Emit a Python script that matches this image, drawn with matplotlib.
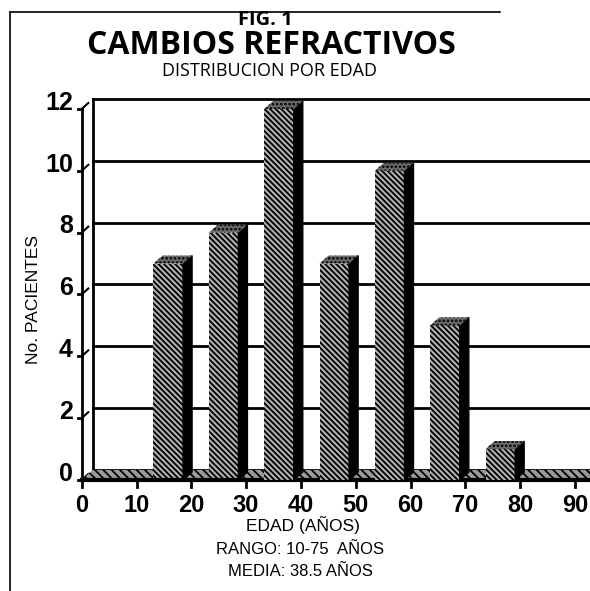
import matplotlib
matplotlib.use("Agg")
import matplotlib.pyplot as plt
from matplotlib.patches import Polygon
from matplotlib.lines import Line2D

# ---- data ----
bin_starts = [0, 10, 20, 30, 40, 50, 60, 70, 80]
patients = [0, 7, 8, 12, 7, 10, 5, 1, 0]
x_ticks = [0, 10, 20, 30, 40, 50, 60, 70, 80, 90]
y_ticks = [0, 2, 4, 6, 8, 10, 12]
title_fig = "FIG. 1"
title_main = "CAMBIOS REFRACTIVOS"
subtitle = "DISTRIBUCION POR EDAD"
xlabel = "EDAD (AÑOS)"
ylabel = "No. PACIENTES"
note1 = "RANGO: 10-75  AÑOS"
note2 = "MEDIA: 38.5 AÑOS"

plt.rcParams['hatch.linewidth'] = 1.3
W, H = 590, 591
fig = plt.figure(figsize=(W / 100, H / 100), dpi=100)
fig.patch.set_facecolor('white')

# axes geometry (pixels)
px0, px_per = 81.7, 5.48
py0, py_per = 480.0, 30.92
top_px = 99.0
ax = fig.add_axes([px0 / W, 1 - py0 / H, (W - px0) / W, (py0 - top_px) / H])
xmax = (W - px0) / px_per
ymax = (py0 - top_px) / py_per
ax.set_xlim(0, xmax)
ax.set_ylim(0, ymax)
ax.axis('off')

DX, DY = 11 / px_per, 10 / py_per        # wall depth
BDX, BDY = 9 / px_per, 8 / py_per        # bar depth

# back wall gridlines
ax.plot([DX, DX], [DY, 12 + DY], color='black', lw=2, clip_on=False, zorder=1)
for v in y_ticks:
    ax.plot([DX, xmax], [v + DY, v + DY], color='black', lw=2, clip_on=False, zorder=1)
    ax.plot([0, DX * 0.6], [v, v + DY * 0.6], color='black', lw=1.5, clip_on=False, zorder=1)
    ax.plot([-0.6, 0], [v, v], color='black', lw=2, clip_on=False, zorder=5)
    ax.text(-1.6, v + 0.2, str(v), ha='right', va='center', fontsize=18,
            fontweight='bold', family='Liberation Sans')

# front y axis
ax.plot([0, 0], [0, 12], color='black', lw=2, clip_on=False, zorder=5)

# floor
floor = Polygon([(0, 0), (DX, DY), (xmax, DY), (xmax, 0)], closed=True,
                facecolor='#9a9a9a', edgecolor='black', lw=0, hatch='\\\\\\\\',
                zorder=2, clip_on=False)
ax.add_patch(floor)
ax.plot([0, xmax], [0, 0], color='black', lw=3, clip_on=False, zorder=6)

# bars
for i, (s, v) in enumerate(zip(bin_starts, patients)):
    x0 = s + 3.0 + 0.1 * i
    x1 = x0 + 5.4
    if v > 0:
        front = Polygon([(x0, 0), (x0, v), (x1, v), (x1, 0)], closed=True,
                        facecolor='#b0b0b0', edgecolor='black', lw=0,
                        hatch='\\\\\\\\\\\\', zorder=3 + i, clip_on=False)
        side = Polygon([(x1, 0), (x1 + BDX, BDY), (x1 + BDX, v + BDY), (x1, v)],
                       closed=True, facecolor='black', edgecolor='black', lw=1,
                       zorder=3 + i, clip_on=False)
        top = Polygon([(x0, v), (x0 + BDX, v + BDY), (x1 + BDX, v + BDY), (x1, v)],
                      closed=True, facecolor='#6a6a6a', edgecolor='black', lw=0,
                      hatch='....', zorder=3 + i, clip_on=False)
        for p in (front, side, top):
            ax.add_patch(p)

# x ticks
for t in x_ticks:
    ax.plot([t, t], [0, -7 / py_per], color='black', lw=2, clip_on=False, zorder=6)
    ax.text(t, -26 / py_per, str(t), ha='center', va='center', fontsize=17,
            fontweight='bold', family='Liberation Sans')

# titles and labels (figure pixels)
def ftext(x, y, s, **kw):
    fig.text(x / W, 1 - y / H, s, ha='center', va='center', **kw)

ftext(265, 20, title_fig, fontsize=14.5, fontweight='bold', family='Open Sans')
ftext(271, 45, title_main, fontsize=23, fontweight='bold', family='Open Sans')
ftext(270, 71, subtitle, fontsize=13, family='Open Sans')
ftext(303, 525, xlabel, fontsize=12.5, family='Liberation Sans')
ftext(300, 550, note1, fontsize=12, family='Liberation Sans')
ftext(300, 572, note2, fontsize=12, family='Liberation Sans')
fig.text(33 / W, 1 - 300 / H, ylabel, rotation=90, ha='center', va='center',
         fontsize=12.5, family='Liberation Sans')

# page border
fig.add_artist(Line2D([10 / W, 10 / W], [1 - 12 / H, 0], color='black', lw=1.2,
                      transform=fig.transFigure))
fig.add_artist(Line2D([10 / W, 500 / W], [1 - 12 / H, 1 - 12 / H], color='black',
                      lw=1.2, transform=fig.transFigure))

fig.savefig("out.png", dpi=100, facecolor='white')
